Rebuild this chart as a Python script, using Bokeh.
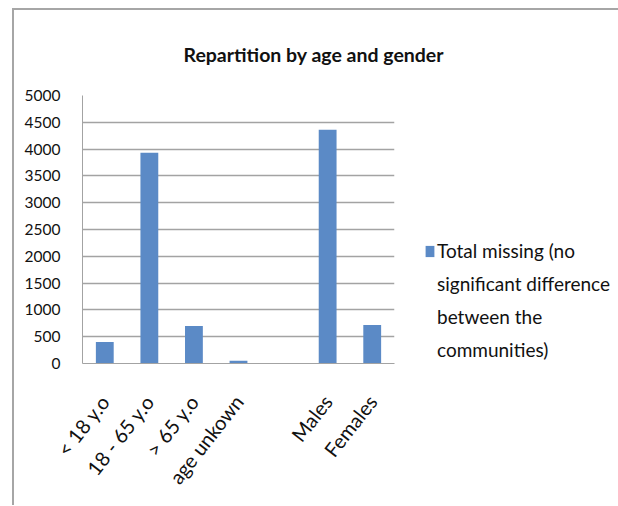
import math
from bokeh.plotting import figure
from bokeh.models import (ColumnDataSource, FactorRange, Range1d, FixedTicker,
                          Legend, LegendItem)
from bokeh.embed import file_html
from bokeh.resources import INLINE

# ---- data ----
categories = ["< 18 y.o", "18 - 65 y.o", "> 65 y.o", "age unkown", " ", "Males", "Females"]
values = [400, 3930, 700, 50, 0, 4360, 720]
y_ticks = [0, 500, 1000, 1500, 2000, 2500, 3000, 3500, 4000, 4500, 5000]
title_text = "Repartition  by age and gender"
legend_lines = ["Total missing (no", "significant difference", "between the", "communities)"]

FONT = "Lato"
BAR = "#5b8ac6"
GRID = "#a3a3a3"
TXT = "#111111"

src = ColumnDataSource(dict(cat=categories, val=values))

p = figure(x_range=FactorRange(*categories, range_padding=0),
           y_range=Range1d(0, 5000),
           frame_width=312, frame_height=268,
           min_border_left=68, min_border_right=222,
           min_border_top=84, min_border_bottom=142,
           output_backend="svg", toolbar_location=None,
           outline_line_color=None)
p.styles = {"border-left": "2px solid #a6a6a6", "border-top": "2px solid #a6a6a6",
            "margin-left": "12px", "margin-top": "8px"}

bars = p.vbar(x="cat", top="val", width=0.4, source=src, fill_color=BAR, line_color=None)

# title
p.title.text = title_text
p.title.text_font = FONT
p.title.text_font_size = "19.5px"
p.title.text_font_style = "bold"
p.title.text_color = TXT
p.title.align = "left"
p.title.offset = 101
p.title.standoff = 60

# axes
p.yaxis.ticker = FixedTicker(ticks=y_ticks)
p.yaxis.axis_line_color = GRID
p.yaxis.major_tick_line_color = None
p.yaxis.minor_tick_line_color = None
p.yaxis.major_label_standoff = 16
p.yaxis.major_label_text_font = FONT
p.yaxis.major_label_text_font_size = "15.5px"
p.yaxis.major_label_text_color = TXT

p.xaxis.axis_line_color = GRID
p.xaxis.major_tick_line_color = None
p.xaxis.minor_tick_line_color = None
p.xaxis.major_label_orientation = math.radians(52)
p.xaxis.major_label_standoff = 28
p.xaxis.major_label_text_font = FONT
p.xaxis.major_label_text_font_size = "20px"
p.xaxis.major_label_text_color = TXT

p.xgrid.grid_line_color = None
p.ygrid.grid_line_color = GRID
p.ygrid.grid_line_width = 1.5

# legend (one series, label wrapped over several lines)
items = [LegendItem(label=legend_lines[0], renderers=[bars])]
items += [LegendItem(label=t, renderers=[]) for t in legend_lines[1:]]
legend = Legend(items=items, location=(30, 2),
                padding=0, margin=0, border_line_color=None, background_fill_alpha=0,
                glyph_width=11, glyph_height=14, label_height=21, label_standoff=2,
                spacing=10, label_text_font=FONT, label_text_font_size="19px",
                label_text_color=TXT)
p.add_layout(legend, "right")

open("out.html", "w").write(file_html(p, INLINE))
